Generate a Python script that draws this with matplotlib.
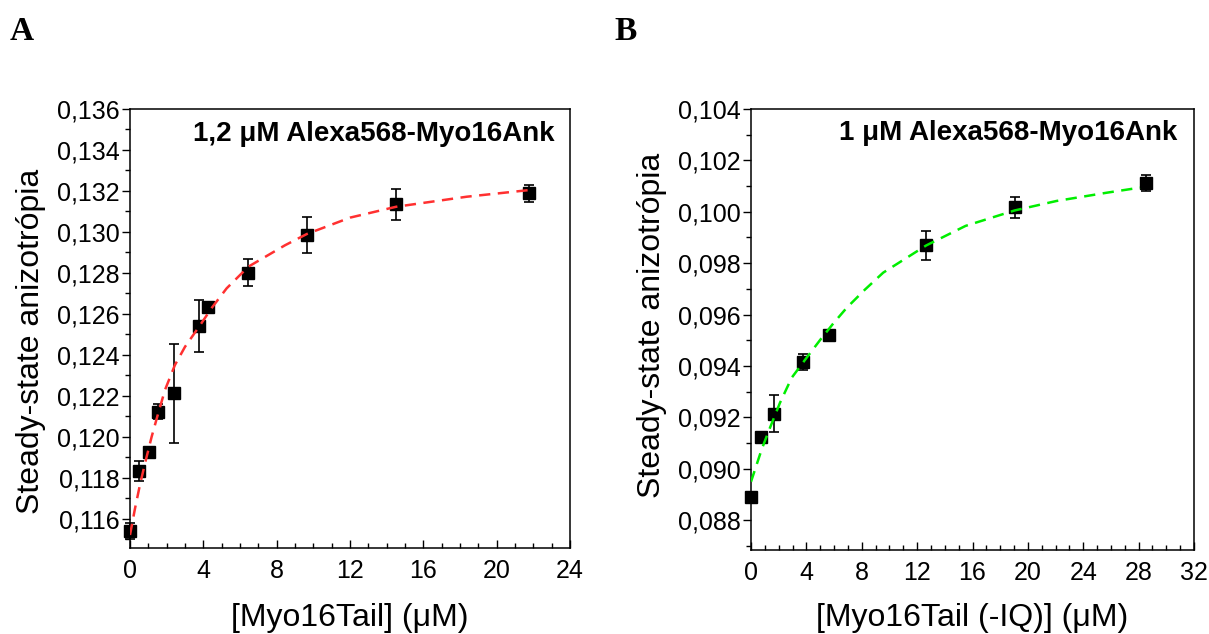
import matplotlib
matplotlib.use("Agg")
import matplotlib.pyplot as plt
from matplotlib.ticker import MultipleLocator, FuncFormatter

# Panel A: 1,2 uM Alexa568-Myo16Ank titrated with Myo16Tail
conc_a = [0, 0.51, 1.05, 1.51, 2.42, 3.76, 4.27, 6.46, 9.67, 14.51, 21.77]
aniso_a = [0.11541, 0.11834, 0.11928, 0.12123, 0.12213, 0.12543, 0.12636,
           0.12801, 0.12985, 0.13135, 0.13189]
err_a = [0.0004, 0.0005, 0.0001, 0.00037, 0.0024, 0.00126, 0.0001,
         0.00065, 0.00088, 0.00075, 0.00041]
fit_x_a = [0, 0.27, 0.55, 0.82, 1.18, 1.54, 1.91, 2.45, 3.0, 3.82, 4.46,
           5.27, 6.46, 8.45, 9.64, 12.0, 14.51, 18.36, 21.82]
fit_y_a = [0.11522, 0.11650, 0.11770, 0.11872, 0.12001, 0.12116, 0.12230,
           0.12351, 0.12440, 0.12545, 0.12630, 0.12725, 0.12831, 0.12935,
           0.12990, 0.13070, 0.13123, 0.13172, 0.13205]

# Panel B: 1 uM Alexa568-Myo16Ank titrated with Myo16Tail (-IQ)
conc_b = [0, 0.72, 1.66, 3.78, 5.63, 12.66, 19.04, 28.52]
aniso_b = [0.08891, 0.09124, 0.09213, 0.09416, 0.09520, 0.09869, 0.10017, 0.10111]
err_b = [0.0, 0.0, 0.00072, 0.00032, 0.0001, 0.00055, 0.00041, 0.00032]
fit_x_b = [0, 0.77, 1.37, 2.09, 2.94, 4.02, 4.98, 5.94, 6.91, 8.23, 9.55,
           12.66, 15.5, 19.04, 22.07, 25.68, 28.1]
fit_y_b = [0.08949, 0.09075, 0.09159, 0.09256, 0.09354, 0.09432, 0.09500,
           0.09565, 0.09626, 0.09697, 0.09763, 0.09869, 0.09945, 0.10005,
           0.10042, 0.10074, 0.10094]

plt.rcParams['font.family'] = ['Liberation Sans', 'DejaVu Sans']

comma = FuncFormatter(lambda v, p: ('%.3f' % v).replace('.', ','))


def style_axes(ax, xmax, ylo, yhi):
    ax.set_xlim(0, xmax)
    ax.set_ylim(ylo, yhi)
    ax.xaxis.set_major_locator(MultipleLocator(4))
    ax.xaxis.set_minor_locator(MultipleLocator(1))
    ax.yaxis.set_major_locator(MultipleLocator(0.002))
    ax.yaxis.set_minor_locator(MultipleLocator(0.001))
    ax.yaxis.set_major_formatter(comma)
    ax.tick_params(axis='x', which='both', direction='in', top=False,
                   labelsize=18, pad=8, width=1)
    ax.tick_params(axis='x', which='major', length=6)
    ax.tick_params(axis='x', which='minor', length=3.5)
    ax.tick_params(axis='y', which='both', direction='out', right=False,
                   labelsize=18, pad=1.5, width=1)
    ax.tick_params(axis='y', which='major', length=6)
    ax.tick_params(axis='y', which='minor', length=3.5)
    for s in ax.spines.values():
        s.set_linewidth(1.1)


def draw_points(ax, x, y, err):
    cont = ax.errorbar(x, y, yerr=err, fmt='s', color='black', ms=9,
                       elinewidth=1.2, capsize=3.5, capthick=1.2, zorder=2)
    for artist in cont.lines[0:1] + tuple(cont.lines[1]) + tuple(cont.lines[2]):
        artist.set_clip_on(False)


fig = plt.figure(figsize=(12.09, 6.34), dpi=100)
ax_a = fig.add_axes([130 / 1209, 86 / 634, 440 / 1209, 439 / 634])
ax_b = fig.add_axes([751 / 1209, 84 / 634, 443 / 1209, 441 / 634])

#Panel A
ax_a.plot(fit_x_a, fit_y_a, color='#ff3030', lw=1.8, dashes=(4.5, 3), zorder=3)
draw_points(ax_a, conc_a, aniso_a, err_a)
style_axes(ax_a, 24, 0.114585, 0.136)
ax_a.set_xlabel('[Myo16Tail] (\u03bcM)', fontsize=23)
ax_a.set_ylabel('Steady-state anizotrópia', fontsize=23)
ax_a.xaxis.set_label_coords(0.5, -0.125)
ax_a.yaxis.set_label_coords(-0.19, 0.47)
ax_a.text(0.966, 0.943, '1,2 \u03bcM Alexa568-Myo16Ank', transform=ax_a.transAxes,
          ha='right', va='center', fontsize=20, fontweight='bold')

#Panel B
ax_b.plot(fit_x_b, fit_y_b, color='#00ee00', lw=1.8, dashes=(4.5, 3), zorder=3)
draw_points(ax_b, conc_b, aniso_b, err_b)
style_axes(ax_b, 32, 0.086834, 0.104)
ax_b.set_xlabel('[Myo16Tail (-IQ)] (\u03bcM)', fontsize=23)
ax_b.set_ylabel('Steady-state anizotrópia', fontsize=23)
ax_b.xaxis.set_label_coords(0.5, -0.12)
ax_b.yaxis.set_label_coords(-0.19, 0.51)
ax_b.text(0.962, 0.946, '1 \u03bcM Alexa568-Myo16Ank', transform=ax_b.transAxes,
          ha='right', va='center', fontsize=20, fontweight='bold')

# Panel letters
fig.text(10 / 1209, 1 - 32 / 634, 'A', fontsize=24, fontweight='bold',
         family='Liberation Serif', va='center', ha='left')
fig.text(614 / 1209, 1 - 32 / 634, 'B', fontsize=24, fontweight='bold',
         family='Liberation Serif', va='center', ha='left')

fig.savefig('out.png', dpi=100)
